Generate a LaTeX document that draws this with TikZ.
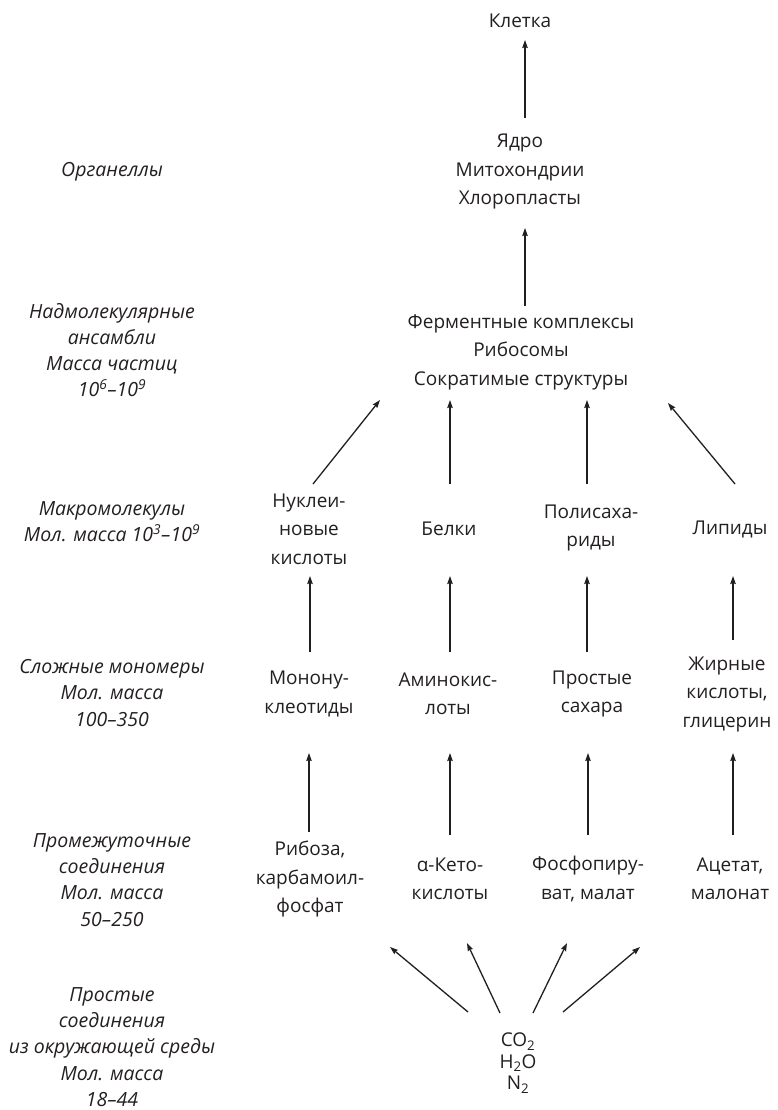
\documentclass[tikz,border=0pt]{standalone}
\usepackage{fontspec}
\setmainfont{Open Sans}
\usetikzlibrary{arrows.meta,calc}
\definecolor{ink}{HTML}{231F20}
\newcommand{\lowidx}[1]{\textsubscript{#1}}
\tikzset{
  lbl/.style={inner sep=0pt, align=center, text=ink, font=\fontsize{19}{28.5}\selectfont},
  side/.style={inner sep=0pt, align=center, text=ink, font=\fontsize{19.5}{26.2}\selectfont\itshape},
  chem/.style={inner sep=0pt, align=center, text=ink, font=\fontsize{19}{21.5}\selectfont},
  arr/.style={draw=ink, line width=1.3pt, -{Stealth[length=8pt,width=5.5pt,inset=1pt]}}
}
\begin{document}
\begin{tikzpicture}[x=1pt,y=-1pt]
\useasboundingbox (0,0) rectangle (777,1110);
% right column nodes
\node[lbl] (kletka) at (520,21) {Клетка};
\node[lbl] (yadro) at (520,172) {Ядро\\Митохондрии\\Хлоропласты};
\node[lbl] (ferm) at (521,352) {Ферментные комплексы\\Рибосомы\\Сократимые структуры};
\node[lbl] (nukl) at (309,529) {Нуклеи-\\новые\\кислоты};
\node[lbl] (belki) at (449,529) {Белки};
\node[lbl] (polis) at (591,528) {Полисаха-\\риды};
\node[lbl] (lipid) at (730,529) {Липиды};
\node[lbl] (mono) at (309,694) {Монону-\\клеотиды};
\node[lbl] (amino) at (448,694) {Аминокис-\\лоты};
\node[lbl] (sahar) at (592,694) {Простые\\сахара};
\node[lbl] (zhir) at (727,694) {Жирные\\кислоты,\\глицерин};
\node[lbl] (ribo) at (310,879) {Рибоза,\\карбамоил-\\фосфат};
\node[lbl] (keto) at (450,879) {α-Кето-\\кислоты};
\node[lbl] (fosfo) at (588,879) {Фосфопиру-\\ват, малат};
\node[lbl] (acet) at (730,879) {Ацетат,\\малонат};
\node[chem] (co2) at (518,1063) {CO\lowidx{2}\\H\lowidx{2}O\\N\lowidx{2}};
% left labels
\node[side] (s1) at (112,172) {Органеллы};
\node[side] (s2) at (112,350) {Надмолекулярные\\ансамбли\\Масса частиц\\10\textsuperscript{6}–10\textsuperscript{9}};
\node[side] (s3) at (112,522) {Макромолекулы\\Мол. масса 10\textsuperscript{3}–10\textsuperscript{9}};
\node[side] (s4) at (112,693) {Сложные мономеры\\Мол. масса\\100–350};
\node[side] (s5) at (112,880) {Промежуточные\\соединения\\Мол. масса\\50–250};
\node[side] (s6) at (112,1047) {Простые\\соединения\\из окружающей среды\\Мол. масса\\18–44};
% arrows
\draw[arr] ($(yadro)+(5,-54)$) -- ($(kletka)+(5,19)$);
\draw[arr] ($(ferm)+(4,-46)$) -- ($(ferm)+(4,-124)$);
\draw[arr] ($(nukl)+(4,-45)$) -- ($(ferm)+(-141,48)$);
\draw[arr] ($(belki)+(1,-45)$) -- ($(ferm)+(-71,48)$);
\draw[arr] ($(polis)+(-4,-44)$) -- ($(ferm)+(66,48)$);
\draw[arr] ($(lipid)+(5,-45)$) -- ($(ferm)+(147,51)$);
\draw[arr] ($(mono)+(1,-42)$) -- ($(nukl)+(1,47)$);
\draw[arr] ($(amino)+(2,-42)$) -- ($(belki)+(1,47)$);
\draw[arr] ($(sahar)+(-5,-42)$) -- ($(polis)+(-4,48)$);
\draw[arr] ($(zhir)+(6,-54)$) -- ($(lipid)+(3,47)$);
\draw[arr] ($(ribo)+(-1,-47)$) -- ($(mono)+(0,59)$);
\draw[arr] ($(keto)+(0,-44)$) -- ($(amino)+(2,59)$);
\draw[arr] ($(fosfo)+(0,-44)$) -- ($(sahar)+(-4,59)$);
\draw[arr] ($(acet)+(3,-44)$) -- ($(zhir)+(6,59)$);
\draw[arr] ($(co2)+(-50,-51)$) -- ($(co2)+(-128,-116)$);
\draw[arr] ($(co2)+(-18,-50)$) -- ($(co2)+(-51,-120)$);
\draw[arr] ($(co2)+(15,-50)$) -- ($(co2)+(49,-120)$);
\draw[arr] ($(co2)+(45,-51)$) -- ($(co2)+(122,-116)$);
\end{tikzpicture}
\end{document}
